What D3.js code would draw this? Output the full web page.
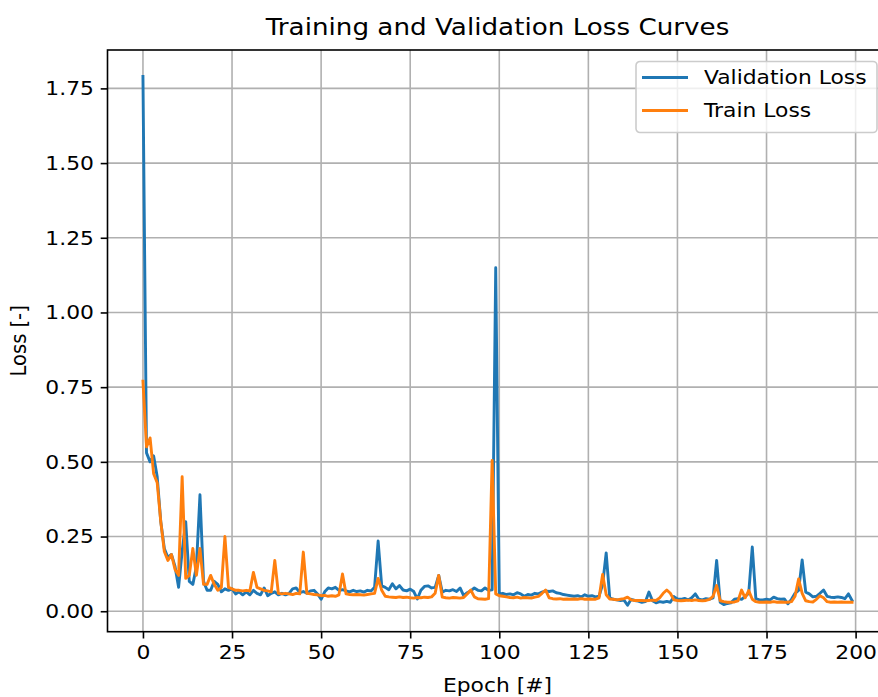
<!DOCTYPE html>
<html>
<head>
<meta charset="utf-8">
<script src="https://cdn.jsdelivr.net/npm/d3@7"></script>
<style>
    body { margin: 0; background: #fff; }
    text { font-family: "DejaVu Sans", sans-serif; fill: #000; }
</style>
</head>
<body>
<svg id="chart" width="878" height="697"></svg>
<script>
// Loss per epoch
var valLoss = [
    1.79, 0.53, 0.50, 0.52, 0.45, 0.30, 0.21, 0.18, 0.19, 0.15,
    0.08, 0.20, 0.30, 0.10, 0.09, 0.15, 0.39, 0.10, 0.07, 0.07,
    0.10, 0.09, 0.065, 0.075, 0.07, 0.075, 0.058, 0.065, 0.055, 0.065,
    0.055, 0.07, 0.06, 0.055, 0.078, 0.052, 0.060, 0.065, 0.055, 0.060,
    0.055, 0.060, 0.075, 0.078, 0.062, 0.066, 0.060, 0.068, 0.070, 0.058,
    0.040, 0.065, 0.078, 0.075, 0.080, 0.070, 0.072, 0.068, 0.065, 0.070,
    0.066, 0.068, 0.064, 0.070, 0.068, 0.080, 0.235, 0.085, 0.080, 0.072,
    0.092, 0.075, 0.086, 0.071, 0.068, 0.074, 0.066, 0.041, 0.070, 0.083,
    0.085, 0.078, 0.080, 0.120, 0.064, 0.070, 0.068, 0.072, 0.066, 0.078,
    0.052, 0.062, 0.068, 0.078, 0.070, 0.068, 0.078, 0.070, 0.072, 1.15,
    0.058, 0.060, 0.056, 0.058, 0.055, 0.062, 0.058, 0.050, 0.056, 0.054,
    0.060, 0.058, 0.064, 0.068, 0.066, 0.068, 0.062, 0.060, 0.056, 0.054,
    0.052, 0.050, 0.052, 0.048, 0.055, 0.050, 0.052, 0.048, 0.050, 0.090,
    0.195, 0.045, 0.040, 0.038, 0.036, 0.037, 0.020, 0.040, 0.036, 0.034,
    0.030, 0.032, 0.064, 0.035, 0.028, 0.032, 0.030, 0.033, 0.030, 0.049,
    0.041, 0.040, 0.043, 0.038, 0.045, 0.058, 0.040, 0.038, 0.042, 0.040,
    0.045, 0.170, 0.030, 0.022, 0.026, 0.028, 0.040, 0.042, 0.040, 0.050,
    0.060, 0.215, 0.042, 0.038, 0.038, 0.040, 0.038, 0.047, 0.042, 0.040,
    0.041, 0.025, 0.040, 0.060, 0.070, 0.172, 0.064, 0.058, 0.048, 0.050,
    0.060, 0.071, 0.050, 0.047, 0.046, 0.048, 0.046, 0.042, 0.058, 0.036
];

var trainLoss = [
    0.77, 0.55, 0.58, 0.46, 0.43, 0.30, 0.20, 0.17, 0.19, 0.14,
    0.12, 0.45, 0.11, 0.12, 0.21, 0.12, 0.21, 0.09, 0.09, 0.12,
    0.09, 0.07, 0.08, 0.25, 0.08, 0.075, 0.07, 0.07, 0.068, 0.070,
    0.068, 0.13, 0.08, 0.075, 0.070, 0.068, 0.065, 0.170, 0.060, 0.058,
    0.060, 0.058, 0.056, 0.060, 0.058, 0.198, 0.060, 0.058, 0.056, 0.055,
    0.052, 0.053, 0.050, 0.052, 0.050, 0.055, 0.125, 0.058, 0.056, 0.055,
    0.056, 0.055, 0.054, 0.056, 0.058, 0.060, 0.110, 0.070, 0.050, 0.048,
    0.047, 0.046, 0.048, 0.046, 0.047, 0.045, 0.044, 0.046, 0.045, 0.047,
    0.046, 0.048, 0.060, 0.120, 0.047, 0.045, 0.044, 0.046, 0.045, 0.044,
    0.046, 0.058, 0.071, 0.048, 0.042, 0.041, 0.040, 0.042, 0.505, 0.058,
    0.052, 0.050, 0.048, 0.046, 0.045, 0.047, 0.044, 0.046, 0.045, 0.044,
    0.047, 0.050, 0.060, 0.071, 0.045, 0.042, 0.041, 0.042, 0.040, 0.041,
    0.040, 0.041, 0.040, 0.042, 0.040, 0.041, 0.040, 0.040, 0.045, 0.123,
    0.055, 0.041, 0.040, 0.038, 0.040, 0.042, 0.047, 0.038, 0.036, 0.036,
    0.036, 0.035, 0.036, 0.037, 0.036, 0.045, 0.060, 0.071, 0.060, 0.038,
    0.036, 0.035, 0.036, 0.037, 0.036, 0.038, 0.036, 0.035, 0.036, 0.040,
    0.050, 0.086, 0.035, 0.032, 0.030, 0.030, 0.031, 0.035, 0.071, 0.045,
    0.069, 0.040, 0.032, 0.030, 0.030, 0.031, 0.030, 0.032, 0.030, 0.031,
    0.030, 0.030, 0.032, 0.050, 0.108, 0.060, 0.035, 0.032, 0.031, 0.040,
    0.052, 0.045, 0.032, 0.030, 0.031, 0.030, 0.031, 0.030, 0.030, 0.030
];

var xTicks = [0, 25, 50, 75, 100, 125, 150, 175, 200];
var yTicks = [0.00, 0.25, 0.50, 0.75, 1.00, 1.25, 1.50, 1.75];

var seriesNames = ["Validation Loss", "Train Loss"];
var seriesColors = ["#1f77b4", "#ff7f0e"];

window.onload = function() {
    chart();
}

function chart() {
    var svg = d3.select("#chart"),
        margin = {top: 50, left: 107.5, bottom: 65.3, right: -9.5},
        width = +svg.attr("width"),
        height = +svg.attr("height"),
        fs = 19.5,    // 10pt at this scale
        sx = 1.12;    // the source picture is a little wider than tall

    var x0 = margin.left, x1 = width - margin.right,
        y0 = margin.top, y1 = height - margin.bottom;

    var epochs = d3.range(valLoss.length);
    var series = [valLoss, trainLoss];

    // matplotlib style 5% margins round the data
    var xPad = (epochs.length - 1) * 0.05;
    var allVals = valLoss.concat(trainLoss);
    var yMin = d3.min(allVals), yMax = d3.max(allVals),
        yPad = (yMax - yMin) * 0.05;

    var x = d3.scaleLinear()
        .domain([-xPad, epochs.length - 1 + xPad])
        .range([x0, x1]);

    var y = d3.scaleLinear()
        .domain([yMin - yPad, yMax + yPad])
        .range([y1, y0]);

    // Grid
    var grid = svg.append("g")
        .attr("stroke", "#b0b0b0")
        .attr("stroke-width", 1.6);

    grid.selectAll(".vgrid")
        .data(xTicks)
        .enter().append("line")
        .attr("x1", d => x(d)).attr("x2", d => x(d))
        .attr("y1", y0).attr("y2", y1);

    grid.selectAll(".hgrid")
        .data(yTicks)
        .enter().append("line")
        .attr("x1", x0).attr("x2", x1)
        .attr("y1", d => y(d)).attr("y2", d => y(d));

    // Clip lines to the axes box
    svg.append("clipPath")
        .attr("id", "plot-clip")
        .append("rect")
        .attr("x", x0).attr("y", y0)
        .attr("width", x1 - x0).attr("height", y1 - y0);

    var line = d3.line()
        .x((d, i) => x(epochs[i]))
        .y(d => y(d));

    svg.append("g")
        .attr("clip-path", "url(#plot-clip)")
        .selectAll("path")
        .data(series)
        .enter().append("path")
        .attr("d", line)
        .attr("fill", "none")
        .attr("stroke", (d, i) => seriesColors[i])
        .attr("stroke-width", 2.9)
        .attr("stroke-linejoin", "round")
        .attr("stroke-linecap", "square");

    // Axes
    var xAxis = d3.axisBottom(x)
        .tickValues(xTicks)
        .tickFormat(d3.format("d"))
        .tickSize(6.8)
        .tickPadding(6.8);

    var yAxis = d3.axisLeft(y)
        .tickValues(yTicks)
        .tickFormat(d3.format(".2f"))
        .tickSize(6.8)
        .tickPadding(6.8);

    var gx = svg.append("g")
        .attr("transform", `translate(0,${y1})`)
        .call(xAxis);

    var gy = svg.append("g")
        .attr("transform", `translate(${x0},0)`)
        .call(yAxis);

    [gx, gy].forEach(function(g) {
        g.select(".domain").remove();
        g.selectAll("line").attr("stroke", "#000").attr("stroke-width", 1.6);
        g.selectAll("text")
            .attr("font-size", fs)
            .attr("font-family", "DejaVu Sans")
            .attr("fill", "#000")
            .attr("x", function() { return (+this.getAttribute("x") || 0) / sx; })
            .attr("transform", `scale(${sx},1)`);
    });

    // Spines (right one falls outside the picture)
    svg.append("rect")
        .attr("x", x0).attr("y", y0)
        .attr("width", x1 - x0).attr("height", y1 - y0)
        .attr("fill", "none")
        .attr("stroke", "#000")
        .attr("stroke-width", 1.6);

    // Title and axis labels
    svg.append("text")
        .attr("transform", `translate(${(x0 + x1) / 2},35) scale(${sx},1)`)
        .attr("font-size", fs * 1.2)
        .style("text-anchor", "middle")
        .text("Training and Validation Loss Curves");

    svg.append("text")
        .attr("transform", `translate(${(x0 + x1) / 2},692) scale(${sx},1)`)
        .attr("font-size", fs)
        .style("text-anchor", "middle")
        .text("Epoch [#]");

    svg.append("text")
        .attr("transform", `translate(26,${(y0 + y1) / 2}) scale(${sx},1) rotate(-90)`)
        .attr("font-size", fs)
        .style("text-anchor", "middle")
        .text("Loss [-]");

    // Legend
    var lg = svg.append("g")
        .attr("transform", "translate(636,61.5)");

    lg.append("rect")
        .attr("width", 241)
        .attr("height", 71)
        .attr("rx", 4)
        .attr("fill", "#fff")
        .attr("fill-opacity", 0.8)
        .attr("stroke", "#cccccc")
        .attr("stroke-width", 1.6);

    var item = lg.selectAll(".legend")
        .data(seriesNames)
        .enter().append("g")
        .attr("class", "legend")
        .attr("transform", (d, i) => `translate(0,${16 + i * 33})`);

    item.append("line")
        .attr("x1", 6).attr("x2", 52)
        .attr("stroke", (d, i) => seriesColors[i])
        .attr("stroke-width", 2.9);

    item.append("text")
        .attr("transform", `translate(68,0) scale(${sx},1)`)
        .attr("dy", "0.35em")
        .attr("font-size", fs)
        .text(d => d);
}
</script>
</body>
</html>
